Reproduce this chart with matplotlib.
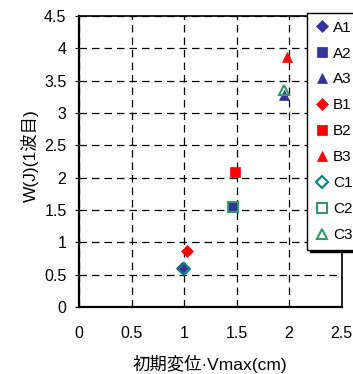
import matplotlib
matplotlib.use("Agg")
import matplotlib.pyplot as plt

plt.rcParams['font.family'] = ['Liberation Sans', 'Noto Sans CJK JP', 'DejaVu Sans']

labels = ["A1", "A2", "A3", "B1", "B2", "B3", "C1", "C2", "C3"]
x_vals = [0.98, 1.47, 1.95, 1.03, 1.49, 1.98, 1.0, 1.47, 1.95]
y_vals = [0.60, 1.55, 3.28, 0.86, 2.09, 3.87, 0.58, 1.55, 3.35]
markers = ["D", "s", "^", "D", "s", "^", "D", "s", "^"]
colors = ["#333399", "#333399", "#333399", "#FF0000", "#FF0000", "#FF0000",
          "#008080", "#339966", "#339966"]
filled = [True, True, True, True, True, True, False, False, False]
xticks = [0, 0.5, 1, 1.5, 2, 2.5]
yticks = [0, 0.5, 1, 1.5, 2, 2.5, 3, 3.5, 4, 4.5]

fig = plt.figure(figsize=(3.53, 3.74), dpi=100)
ax = fig.add_axes([79/353, 1-307/374, (341.5-79)/353, (307-16)/374])

sizes = {"D": 6, "s": 7, "^": 7.5}
for lab, x, y, m, c, f in zip(labels, x_vals, y_vals, markers, colors, filled):
    ax.plot([x], [y], linestyle='none', marker=m, markersize=sizes[m],
            markerfacecolor=c if f else 'none', markeredgecolor=c,
            markeredgewidth=1.5 if not f else 0.5, label=lab)

ax.set_xlim(0, 2.5)
ax.set_ylim(0, 4.5)
ax.set_xticks(xticks)
ax.set_yticks(yticks)
ax.set_xticklabels([f"{v:g}" for v in xticks])
ax.set_yticklabels([f"{v:g}" for v in yticks])
ax.grid(True, color='black', linestyle=(0, (6, 4)), linewidth=0.9)
ax.tick_params(axis='x', length=0, pad=14, labelsize=11.5)
ax.tick_params(axis='y', length=3, direction='out', pad=6, labelsize=11.5)
for s in ['left', 'bottom']:
    ax.spines[s].set_linewidth(1.6)
for s in ['top', 'right']:
    ax.spines[s].set_linewidth(1.2)

ax.set_xlabel("初期変位·Vmax(cm)", fontsize=12.5)
ax.set_ylabel("W(J)(1波目)", fontsize=12.5)
ax.xaxis.label.set_va('center')
ax.yaxis.label.set_va('center')
ax.xaxis.set_label_coords(0.5, (307-364)/291)
ax.yaxis.set_label_coords((30-79)/262.5, 0.52)

leg = fig.legend(loc='upper left', bbox_to_anchor=(307/353, 1-13/374),
                 bbox_transform=fig.transFigure, frameon=True, fancybox=False,
                 shadow={'color': 'black', 'alpha': 1},
                 fontsize=11, labelspacing=0.78, handletextpad=0.2,
                 handlelength=1.0, borderpad=0.5, borderaxespad=0)
leg.get_frame().set_edgecolor('black')
leg.get_frame().set_linewidth(1.0)

fig.savefig("out.png", dpi=100)
